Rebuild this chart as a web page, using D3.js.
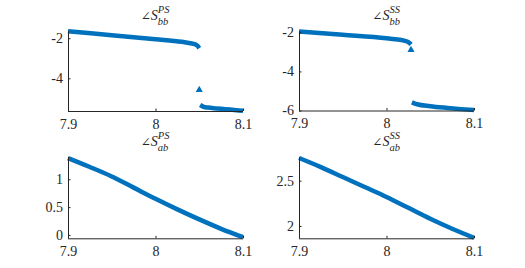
<!DOCTYPE html>
<meta charset="utf-8">
<style>
body { margin: 0; background: #fff; }
.axis path, .axis line { stroke: #262626; }
</style>
<svg width="525" height="268"></svg>
<script src="https://d3js.org/d3.v7.min.js"></script>
<script>

// frequency axis shared by all panels
var xTicks = [7.9, 8, 8.1];

// angle S_bb^PS: upper branch, lone point, lower branch
var psBbUpperX = [7.9, 7.95, 8.0, 8.03, 8.04, 8.045, 8.048, 8.05];
var psBbUpperY = [-1.65, -1.85, -2.05, -2.18, -2.25, -2.3, -2.38, -2.5];
var psBbLowerX = [8.051, 8.055, 8.06, 8.07, 8.08, 8.09, 8.1];
var psBbLowerY = [-5.33, -5.42, -5.46, -5.5, -5.54, -5.58, -5.62];
var psBbLoneX = [8.05];
var psBbLoneY = [-4.58];

// angle S_bb^SS
var ssBbUpperX = [7.9, 7.95, 8.0, 8.01, 8.02, 8.025, 8.028];
var ssBbUpperY = [-1.95, -2.12, -2.3, -2.35, -2.42, -2.5, -2.62];
var ssBbLowerX = [8.029, 8.035, 8.05, 8.07, 8.085, 8.1];
var ssBbLowerY = [-5.58, -5.68, -5.78, -5.87, -5.93, -5.98];
var ssBbLoneX = [8.028];
var ssBbLoneY = [-2.9];

// angle S_ab^PS
var psAbX = [7.9, 7.925, 7.95, 7.975, 8.0, 8.025, 8.05, 8.075, 8.1];
var psAbY = [1.38, 1.22, 1.05, 0.85, 0.65, 0.46, 0.28, 0.11, -0.04];

// angle S_ab^SS
var ssAbX = [7.9, 7.925, 7.95, 7.975, 8.0, 8.025, 8.05, 8.075, 8.1];
var ssAbY = [2.75, 2.65, 2.54, 2.43, 2.32, 2.2, 2.08, 1.97, 1.87];

var panels = [
  { sub: "bb", sup: "PS", left: 68, right: 243, top: 31, bottom: 111,
    yDomain: [-5.63, -1.64], yTicks: [-4, -2],
    branches: [[psBbUpperX, psBbUpperY], [psBbLowerX, psBbLowerY]], lone: [psBbLoneX, psBbLoneY] },
  { sub: "bb", sup: "SS", left: 299, right: 474, top: 31, bottom: 110.5,
    yDomain: [-6.0, -1.93], yTicks: [-6, -4, -2],
    branches: [[ssBbUpperX, ssBbUpperY], [ssBbLowerX, ssBbLowerY]], lone: [ssBbLoneX, ssBbLoneY] },
  { sub: "ab", sup: "PS", left: 68, right: 243, top: 157, bottom: 238.3,
    yDomain: [-0.06, 1.40], yTicks: [0, 0.5, 1],
    branches: [[psAbX, psAbY]], lone: null },
  { sub: "ab", sup: "SS", left: 299, right: 474, top: 157.3, bottom: 238.3,
    yDomain: [1.864, 2.758], yTicks: [2, 2.5],
    branches: [[ssAbX, ssAbY]], lone: null }
];

var svg = d3.select("svg");
var blue = "#0072BD";
var serif = "\"Liberation Serif\", \"Times New Roman\", Tinos, \"DejaVu Serif\", \"Noto Serif\", Times, serif";

panels.forEach(function(p) {
  var x = d3.scaleLinear().domain([7.9, 8.1]).range([p.left, p.right]);
  var y = d3.scaleLinear().domain(p.yDomain).range([p.bottom, p.top]);
  var g = svg.append("g");

  // data
  var line = d3.line()
      .x(function(d) { return x(d[0]); })
      .y(function(d) { return y(d[1]); })
      .curve(d3.curveMonotoneX);
  p.branches.forEach(function(b) {
    var pts = b[0].map(function(v, i) { return [v, b[1][i]]; });
    g.append("path")
        .attr("d", line(pts))
        .attr("fill", "none")
        .attr("stroke", blue)
        .attr("stroke-width", 4.5)
        .attr("stroke-linejoin", "round");
  });
  if (p.lone) {
    p.lone[0].forEach(function(v, i) {
      g.append("path")
          .attr("d", d3.symbol().type(d3.symbolTriangle).size(22)())
          .attr("transform", "translate(" + x(v) + "," + y(p.lone[1][i]) + ")")
          .attr("fill", blue);
    });
  }

  // axes (ticks pointing inward, like matlab)
  var xAxis = g.append("g")
      .attr("class", "axis")
      .attr("font-family", serif)
      .attr("font-size", 14)
      .attr("transform", "translate(0," + p.bottom + ")")
      .call(d3.axisBottom(x).tickValues(xTicks).tickSizeInner(-2.5).tickSizeOuter(0)
        .tickFormat(d3.format("")));
  xAxis.attr("font-family", serif).attr("font-size", 14);
  xAxis.select(".domain").attr("d", "M" + p.left + ",0.5H" + p.right);
  xAxis.selectAll("text").attr("y", 8).attr("dy", "0.71em").attr("fill", "#262626");

  var yAxis = g.append("g")
      .attr("class", "axis")
      .attr("transform", "translate(" + p.left + ",0)")
      .call(d3.axisLeft(y).tickValues(p.yTicks).tickSizeInner(-2.5).tickSizeOuter(0)
        .tickFormat(d3.format("")));
  yAxis.attr("font-family", serif).attr("font-size", 14);
  yAxis.select(".domain").attr("d", "M0.5," + p.top + "V" + p.bottom);
  yAxis.selectAll("text").attr("x", -5).attr("fill", "#262626")
      .text(function(d) { return String(d); });

  // title: angle S with stacked sub/superscript in one text element
  var cx = (p.left + p.right) / 2;
  var base = p.top - 11;
  var t = svg.append("text").attr("y", base)
      .attr("font-family", serif).attr("font-size", 14).attr("fill", "#262626");
  t.append("tspan").attr("font-family", "\"DejaVu Serif\", serif").attr("font-size", 12).text("\u2220");
  t.append("tspan").attr("font-style", "italic").text("S");
  var sub = t.append("tspan").attr("dy", 5).attr("font-style", "italic")
      .attr("font-size", 10.5).text(p.sub);
  var subW = sub.node().getComputedTextLength();
  t.append("tspan").attr("dx", -subW).attr("dy", -12).attr("font-style", "italic")
      .attr("font-size", 10.5).text(p.sup);
  var bb = t.node().getBBox();
  t.attr("x", cx - bb.width / 2);
});

</script>
